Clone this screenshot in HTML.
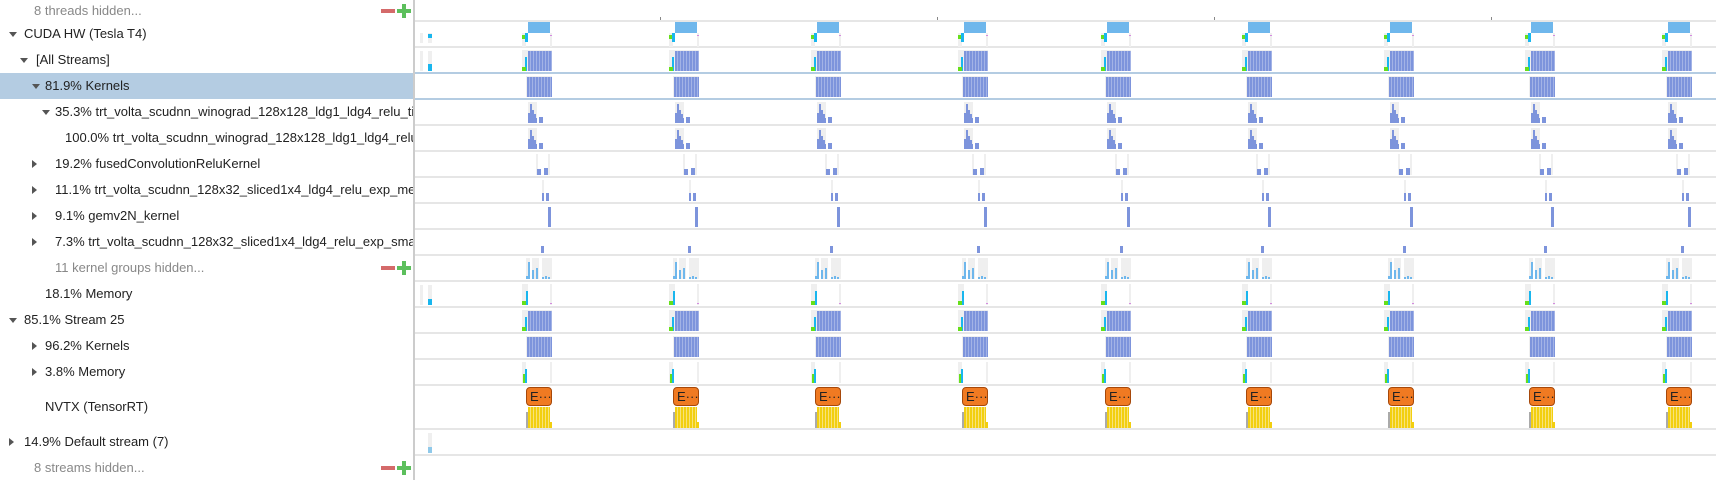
<!DOCTYPE html>
<html><head><meta charset="utf-8">
<style>
*{margin:0;padding:0;box-sizing:border-box}
body{width:1716px;height:480px;background:#fff;font-family:"Liberation Sans","DejaVu Sans",sans-serif;overflow:hidden;position:relative}
#left{position:absolute;left:0;top:0;width:413px;height:480px}
.row{position:absolute;left:0;width:413px;height:26px;font-size:13px;line-height:26px;color:#222;white-space:nowrap;overflow:hidden}
.tri{position:absolute;top:11px;width:0;height:0;border-left:4px solid transparent;border-right:4px solid transparent;border-top:5px solid #555}
.grey{color:#888}
#divider{position:absolute;left:413px;top:0;width:2px;height:480px;background:#ccc}
#tl{position:absolute;left:415px;top:0;width:1301px;height:480px;overflow:hidden}
.sep{position:absolute;left:0;width:1301px;height:2px;background:#e6e6e6}
.r{position:absolute}
.st{background:repeating-linear-gradient(90deg,#7d94dc 0 2px,#a3b3e6 2px 3px)}
.ye{background:repeating-linear-gradient(90deg,#f2cf10 0 2px,#f8e27a 2px 3px)}
.nv{position:absolute;background:#f07a22;border:1px solid #a6480a;border-radius:4px;font-size:13px;line-height:18px;color:#222;padding-left:3px}
.pm{position:absolute;top:8px}
</style></head><body>
<div id="left"></div>
<div id="divider"></div>
<div id="tl"></div>
<script>
const rowTops=[0,21,47,73,99,125,151,177,203,229,255,281,307,333,359,385,429,455];
const rowHeights=[21,26,26,26,26,26,26,26,26,26,26,26,26,26,26,44,26,25];
const labels=["8 threads hidden...","CUDA HW (Tesla T4)","[All Streams]","81.9% Kernels","35.3% trt_volta_scudnn_winograd_128x128_ldg1_ldg4_relu_tile","100.0% trt_volta_scudnn_winograd_128x128_ldg1_ldg4_relu_","19.2% fusedConvolutionReluKernel","11.1% trt_volta_scudnn_128x32_sliced1x4_ldg4_relu_exp_medium","9.1% gemv2N_kernel","7.3% trt_volta_scudnn_128x32_sliced1x4_ldg4_relu_exp_small_","11 kernel groups hidden...","18.1% Memory","85.1% Stream 25","96.2% Kernels","3.8% Memory","NVTX (TensorRT)","14.9% Default stream (7)","8 streams hidden..."];
const textX=[34,24,36,45,55,65,55,55,55,55,55,45,24,45,45,45,24,34];
const triX=[-1,9,20,32,42,-1,32,32,32,32,-1,-1,9,32,32,-1,9,-1];
const triOpen=[0,1,1,1,1,0,0,0,0,0,0,0,1,0,0,0,0,0];
const greyRows=[0,10,17];
const blockStarts=[526,673,815,962,1105,1246,1388,1529,1666];
const rulerTicks=[660,937,1214,1491];
const left=document.getElementById('left');
labels.forEach((t,i)=>{
  const d=document.createElement('div');
  d.className='row'+(greyRows.includes(i)?' grey':'');
  
  
  d.style.top=rowTops[i]+'px';d.style.height=rowHeights[i]+'px';d.style.lineHeight=rowHeights[i]+'px';
  if(i===3){d.style.background='#b4cce2';}
  const s=document.createElement('span');s.style.position='absolute';s.style.left=textX[i]+'px';s.textContent=t;
  d.appendChild(s);
  if(triX[i]>=0){const tr=document.createElement('div');tr.className='tri';tr.style.left=triX[i]+'px';tr.style.top=(rowHeights[i]/2-2)+'px';
    if(!triOpen[i]){tr.style.borderTop='4px solid transparent';tr.style.borderBottom='4px solid transparent';tr.style.borderLeft='5px solid #555';tr.style.borderRight='0';tr.style.top=(rowHeights[i]/2-4)+'px';}
    d.appendChild(tr);}
  if(greyRows.includes(i)){
    const m=document.createElement('div');m.className='pm';m.style.left='381px';m.style.top=(rowHeights[i]/2-2)+'px';m.style.width='14px';m.style.height='4px';m.style.background='#d46a6a';
    d.appendChild(m);
    const p=document.createElement('div');p.className='pm';p.style.left='397px';p.style.top=(rowHeights[i]/2-7)+'px';p.style.width='14px';p.style.height='14px';
    p.style.background='linear-gradient(#5cbf5c,#5cbf5c) center/14px 4px no-repeat,linear-gradient(#5cbf5c,#5cbf5c) center/4px 14px no-repeat';
    d.appendChild(p);
  }
  left.appendChild(d);
});
const tl=document.getElementById('tl');
const OX=415;
function rect(x,y,w,h,bg,cls){const r=document.createElement('div');r.className='r '+(cls||'');r.style.left=(x-OX)+'px';r.style.top=y+'px';r.style.width=w+'px';r.style.height=h+'px';if(bg)r.style.background=bg;tl.appendChild(r);return r;}
// separators
rowTops.slice(1).forEach((y,i)=>{const s=document.createElement('div');s.className='sep';s.style.top=(y-1)+'px';
  if(y===73||y===99){s.style.background='#b4cce2';}
  tl.appendChild(s);});
rulerTicks.forEach(x=>{const r=rect(x,17,1,3,'#888');});
const G='#efefef',GR='#66e01a',CY='#19b6ee',LB='#6fb7ec',K='#7d94dc',PK='#d58ae0';
// early items
[[420,33,3,10,G],[428,33,4,10,G],[428,34,4,4,CY],[420,51,3,20,G],[428,51,4,20,G],[428,64,4,7,CY],
 [420,285,3,20,G],[428,285,4,20,G],[428,299,4,6,CY],[428,433,4,20,G],[428,447,4,6,'#8fc9ea']].forEach(a=>{const r=rect(...a);});
function bar(L,T,dx,w,h,c,name){const r=rect(L+dx,T+24-h,w,h,c);}
blockStarts.forEach((L,b)=>{
  let T;
  // row1 CUDA HW
  T=21; rect(L-4,T+12,4,14,G); rect(L+24,T+12,2,14,G);
  let r=rect(L+2,T+1,22,11,LB);
  rect(L-4,T+14,3,4,GR); rect(L-1,T+12,3,9,CY); rect(L+24,T+14,2,1,PK);
  // row2 all streams
  T=47; rect(L-4,T+3,30,21,G); r=rect(L+2,T+4,24,20,null,'st');
  rect(L-1,T+10,2,14,CY); rect(L-4,T+20,4,4,GR);
  // row3 kernels
  T=73; rect(L,T+3,26,21,G); r=rect(L+1,T+4,25,20,null,'st');
  // row4/5 winograd
  [99,125].forEach(T=>{rect(L+2,T+3,9,21,G);
    [[2,2,10],[4,2,19],[6,2,13],[8,2,9],[10,1,5],[13,4,6]].forEach(a=>bar(L,T,a[0],a[1],a[2],K,'winograd-kernel'));});
  // row6 fused
  T=151; rect(L+10,T+3,2,21,G); rect(L+22,T+3,2,21,G); bar(L,T,11,4,6,K,'fused-kernel'); bar(L,T,18,4,7,K,'fused-kernel');
  // row7 medium
  T=177; rect(L+16,T+3,2,21,G); bar(L,T,16,2,8,K,'medium-kernel'); bar(L,T,20,3,8,K,'medium-kernel');
  // row8 gemv
  T=203; bar(L,T,22,3,20,K,'gemv-kernel');
  // row9 small
  T=229; bar(L,T,15,3,7,K,'small-kernel');
  // row10 hidden groups
  T=255; rect(L,T+3,4,21,G); rect(L+6,T+3,7,21,G); rect(L+16,T+3,10,21,G);
  [[0,2,3],[2,2,17],[6,2,9],[10,2,11],[16,2,2],[19,2,3],[22,2,2]].forEach(a=>bar(L,T,a[0],a[1],a[2],LB,'hidden-kernel'));
  // row11 memory
  T=281; rect(L-4,T+3,6,21,G); rect(L+24,T+3,2,21,G); bar(L,T,-4,4,4,GR,'memcpy'); bar(L,T,0,2,14,CY,'memcpy'); rect(L+24,T+22,2,1,PK);
  // row12 stream 25
  T=307; rect(L-4,T+3,30,21,G); r=rect(L+2,T+4,24,20,null,'st');
  bar(L,T,-1,2,14,CY,'memcpy'); bar(L,T,-4,4,4,GR,'memcpy');
  // row13
  T=333; rect(L,T+3,26,21,G); r=rect(L+1,T+4,25,20,null,'st');
  // row14
  T=359; rect(L-4,T+3,4,21,G); rect(L+24,T+3,2,21,G); bar(L,T,-3,2,9,GR,'memcpy'); bar(L,T,-1,2,14,CY,'memcpy');
  // NVTX
  T=385; const n=document.createElement('div');n.className='nv';n.style.left=(L-OX)+'px';n.style.top=(T+2)+'px';n.style.width='26px';n.style.height='19px';n.textContent='E···';
  tl.appendChild(n);
  rect(L,T+27,2,16,'#aaa'); r=rect(L+2,T+22,22,21,null,'ye');
  rect(L+24,T+37,2,6,'#f2cf10');
});
</script>
</body></html>
